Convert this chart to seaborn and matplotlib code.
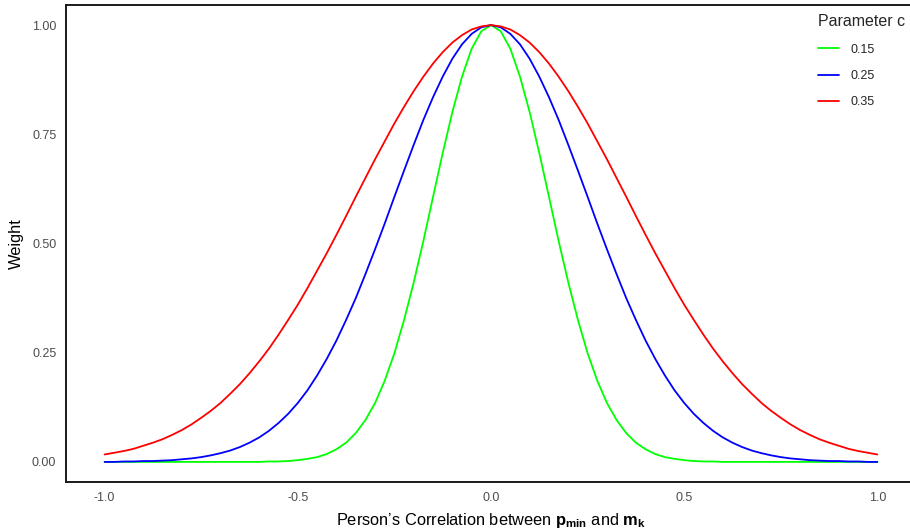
import numpy as np
import pandas as pd
import matplotlib
matplotlib.use("Agg")
import matplotlib.pyplot as plt
import seaborn as sns

# x grid (Pearson correlation), step 0.025
x_vals = [-1.0, -0.975, -0.95, -0.925, -0.9, -0.875, -0.85, -0.825, -0.8, -0.775,
          -0.75, -0.725, -0.7, -0.675, -0.65, -0.625, -0.6, -0.575, -0.55, -0.525,
          -0.5, -0.475, -0.45, -0.425, -0.4, -0.375, -0.35, -0.325, -0.3, -0.275,
          -0.25, -0.225, -0.2, -0.175, -0.15, -0.125, -0.1, -0.075, -0.05, -0.025,
          0.0,
          0.025, 0.05, 0.075, 0.1, 0.125, 0.15, 0.175, 0.2, 0.225, 0.25,
          0.275, 0.3, 0.325, 0.35, 0.375, 0.4, 0.425, 0.45, 0.475, 0.5,
          0.525, 0.55, 0.575, 0.6, 0.625, 0.65, 0.675, 0.7, 0.725, 0.75,
          0.775, 0.8, 0.825, 0.85, 0.875, 0.9, 0.925, 0.95, 0.975, 1.0]

w_015 = [0.0, 0.0, 0.0, 0.0, 0.0, 0.0, 0.0, 0.0, 0.0, 0.0,
         0.0, 0.0, 0.0, 0.0, 0.0, 0.0, 0.0, 0.001, 0.001, 0.002,
         0.004, 0.007, 0.011, 0.018, 0.029, 0.044, 0.066, 0.096, 0.135, 0.186,
         0.249, 0.325, 0.411, 0.506, 0.607, 0.707, 0.801, 0.882, 0.946, 0.986,
         1.0,
         0.986, 0.946, 0.882, 0.801, 0.707, 0.607, 0.506, 0.411, 0.325, 0.249,
         0.186, 0.135, 0.096, 0.066, 0.044, 0.029, 0.018, 0.011, 0.007, 0.004,
         0.002, 0.001, 0.001, 0.0, 0.0, 0.0, 0.0, 0.0, 0.0, 0.0,
         0.0, 0.0, 0.0, 0.0, 0.0, 0.0, 0.0, 0.0, 0.0, 0.0]

w_025 = [0.0, 0.0, 0.001, 0.001, 0.002, 0.002, 0.003, 0.004, 0.006, 0.008,
         0.011, 0.015, 0.020, 0.026, 0.034, 0.044, 0.056, 0.071, 0.089, 0.110,
         0.135, 0.164, 0.198, 0.236, 0.278, 0.325, 0.375, 0.430, 0.487, 0.546,
         0.607, 0.667, 0.726, 0.783, 0.835, 0.882, 0.923, 0.956, 0.980, 0.995,
         1.0,
         0.995, 0.980, 0.956, 0.923, 0.882, 0.835, 0.783, 0.726, 0.667, 0.607,
         0.546, 0.487, 0.430, 0.375, 0.325, 0.278, 0.236, 0.198, 0.164, 0.135,
         0.110, 0.089, 0.071, 0.056, 0.044, 0.034, 0.026, 0.020, 0.015, 0.011,
         0.008, 0.006, 0.004, 0.003, 0.002, 0.002, 0.001, 0.001, 0.0, 0.0]

w_035 = [0.017, 0.021, 0.025, 0.030, 0.037, 0.044, 0.052, 0.062, 0.073, 0.086,
         0.101, 0.117, 0.135, 0.156, 0.178, 0.203, 0.230, 0.259, 0.291, 0.325,
         0.360, 0.398, 0.438, 0.478, 0.520, 0.563, 0.607, 0.650, 0.693, 0.734,
         0.775, 0.813, 0.849, 0.882, 0.912, 0.938, 0.960, 0.977, 0.990, 0.997,
         1.0,
         0.997, 0.990, 0.977, 0.960, 0.938, 0.912, 0.882, 0.849, 0.813, 0.775,
         0.734, 0.693, 0.650, 0.607, 0.563, 0.520, 0.478, 0.438, 0.398, 0.360,
         0.325, 0.291, 0.259, 0.230, 0.203, 0.178, 0.156, 0.135, 0.117, 0.101,
         0.086, 0.073, 0.062, 0.052, 0.044, 0.037, 0.030, 0.025, 0.021, 0.017]

param_labels = ["0.15", "0.25", "0.35"]
series_colors = ["#00FF00", "#0000FF", "#FF0000"]
x_ticks = [-1.0, -0.5, 0.0, 0.5, 1.0]
x_tick_labels = ["-1.0", "-0.5", "0.0", "0.5", "1.0"]
y_ticks = [0.0, 0.25, 0.5, 0.75, 1.0]
y_tick_labels = ["0.00", "0.25", "0.50", "0.75", "1.00"]

df = pd.concat([
    pd.DataFrame({"x": x_vals, "w": w, "c": lab})
    for w, lab in zip([w_015, w_025, w_035], param_labels)
], ignore_index=True)

sns.set_theme(style="white")
plt.rcParams["font.family"] = ["Liberation Sans", "DejaVu Sans"]
plt.rcParams["mathtext.fontset"] = "custom"
plt.rcParams["mathtext.rm"] = "Liberation Sans"
plt.rcParams["mathtext.bf"] = "Liberation Sans:bold"
plt.rcParams["mathtext.it"] = "Liberation Sans:italic"

fig = plt.figure(figsize=(9.10, 5.29), dpi=100)
W, H = 910, 529
ax = fig.add_axes([66 / W, (H - 482) / H, 850 / W, 477 / H])

sns.lineplot(data=df, x="x", y="w", hue="c", hue_order=param_labels,
             palette=dict(zip(param_labels, series_colors)), linewidth=1.3,
             ax=ax, legend=True)

ax.set_xlim(-1.1, 1.1)
ax.set_ylim(-0.046, 1.046)
ax.set_xticks(x_ticks)
ax.set_xticklabels(x_tick_labels)
ax.set_yticks(y_ticks)
ax.set_yticklabels(y_tick_labels)
ax.tick_params(axis="both", length=0, pad=7, labelsize=9, labelcolor="#4d4d4d")

for s in ["left", "bottom", "top"]:
    ax.spines[s].set_visible(True)
    ax.spines[s].set_color("#1a1a1a")
    ax.spines[s].set_linewidth(1.4)
ax.spines["right"].set_visible(False)

ax.set_xlabel(r"Person’s Correlation between $\mathbf{p}_{\mathbf{min}}$ and $\mathbf{m}_{\mathbf{k}}$",
              fontsize=11.8, color="black", labelpad=5)
ax.set_ylabel("Weight", fontsize=11.8, color="black", labelpad=6)

handles, labels = ax.get_legend_handles_labels()
leg = ax.legend(handles, labels, title="Parameter c", frameon=False,
                loc="upper left", bbox_to_anchor=(807 / W, (H - 3) / H),
                bbox_transform=fig.transFigure, fontsize=9, title_fontsize=11.5,
                handlelength=1.65, handletextpad=0.9, labelspacing=1.15,
                alignment="left")
for ln in leg.get_lines():
    ln.set_linewidth(1.3)

fig.savefig("out.png", dpi=100)
